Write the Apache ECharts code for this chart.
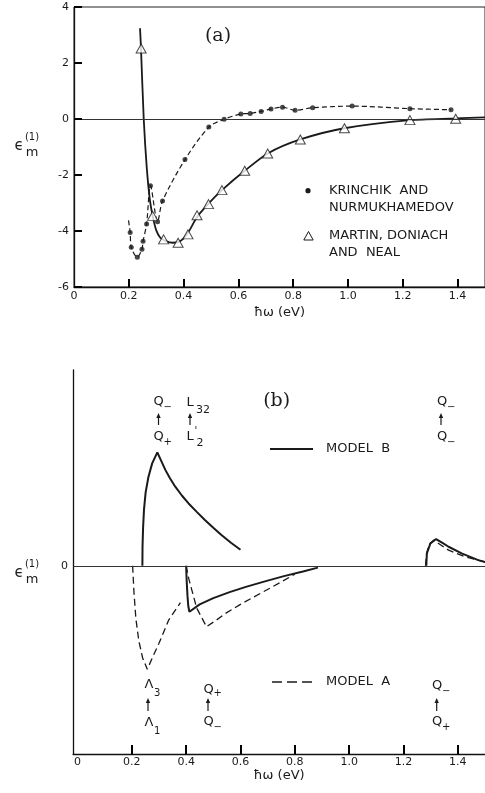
<!DOCTYPE html>
<html><head><meta charset="utf-8">
<script src="https://cdn.jsdelivr.net/npm/echarts@6/dist/echarts.min.js"></script>
<style>html,body{margin:0;padding:0;background:#fff}#c{width:485px;height:793px}</style>
</head><body><div id="c"></div>
<script>
// ---------- Ticks ----------
const xTickValues = [0.2, 0.4, 0.6, 0.8, 1.0, 1.2, 1.4];
const xLabelValues = [0, 0.2, 0.4, 0.6, 0.8, 1.0, 1.2, 1.4];
const yTickValuesA = [-4, -2, 0, 2];
// ---------- Panel (a) data ----------
const krinchikStart = [[0.199, -3.62]];
const krinchikPts = [[0.205,-4.05],[0.209,-4.58],[0.231,-4.94],[0.248,-4.65],[0.252,-4.37],[0.265,-3.75],[0.279,-2.38],[0.305,-3.67],[0.323,-2.93],[0.405,-1.45],[0.492,-0.29],[0.548,-0.01],[0.609,0.18],[0.643,0.20],[0.683,0.27],[0.719,0.36],[0.761,0.42],[0.807,0.31],[0.871,0.40],[1.015,0.46],[1.226,0.37],[1.376,0.33]];
const martinPts = [[0.245,2.52],[0.287,-3.46],[0.327,-4.30],[0.380,-4.42],[0.416,-4.12],[0.449,-3.44],[0.491,-3.04],[0.540,-2.54],[0.623,-1.85],[0.707,-1.23],[0.826,-0.73],[0.987,-0.33],[1.226,-0.04],[1.393,0.01]];
const martinCurve = [[0.241,3.24],[0.2445,2.52],[0.2545,0],[0.266,-1.8],[0.277,-2.9],[0.287,-3.46],[0.300,-3.97],[0.315,-4.24],[0.335,-4.36],[0.360,-4.42],[0.380,-4.40],[0.400,-4.26],[0.420,-4.00],[0.449,-3.50],[0.491,-3.02],[0.540,-2.54],[0.623,-1.85],[0.707,-1.23],[0.826,-0.73],[0.987,-0.33],[1.226,-0.04],[1.393,0.02],[1.5,0.06]];

// ---------- Panel (b) data (arbitrary units) ----------
const modelB1 = [[0.239,0],[0.2395,0.1],[0.2415,0.2],[0.245,0.3],[0.251,0.39],[0.261,0.47],[0.275,0.544],[0.294,0.602],[0.31,0.552],[0.324,0.508],[0.34,0.466],[0.36,0.42],[0.385,0.372],[0.409,0.331],[0.44,0.285],[0.469,0.243],[0.5,0.202],[0.53,0.163],[0.565,0.122],[0.6,0.085]];
const modelB2 = [[0.400,0],[0.402,-0.08],[0.405,-0.16],[0.408,-0.215],[0.412,-0.244],[0.45,-0.205],[0.5,-0.172],[0.56,-0.14],[0.62,-0.112],[0.69,-0.083],[0.76,-0.055],[0.83,-0.03],[0.885,-0.01]];
const modelB3 = [[1.284,0],[1.286,0.066],[1.299,0.119],[1.32,0.142],[1.345,0.12],[1.366,0.101],[1.414,0.066],[1.475,0.03],[1.5,0.02]];
const modelA1 = [[0.203,0],[0.208,-0.14],[0.215,-0.28],[0.226,-0.40],[0.24,-0.49],[0.257,-0.55],[0.28,-0.475],[0.3,-0.412],[0.336,-0.288],[0.379,-0.196]];
const modelA2 = [[0.400,0],[0.41,-0.07],[0.421,-0.129],[0.439,-0.225],[0.475,-0.324],[0.51,-0.29],[0.545,-0.253],[0.6,-0.205],[0.65,-0.165],[0.72,-0.11],[0.80,-0.045]];
const modelA3 = [[1.281,0],[1.285,0.06],[1.293,0.11],[1.311,0.136],[1.34,0.108],[1.366,0.083],[1.426,0.048],[1.5,0.02]];

const INK = '#1a1a1a';
const FONT = '"DejaVu Sans", sans-serif';

function txt(x, y, s, size, align, family) {
  return { type: 'text', x: x, y: y, z: 10,
    style: { text: s, font: size + 'px ' + (family || FONT), fill: INK,
      align: align || 'center', verticalAlign: 'middle', textAlign: align || 'center', textVerticalAlign: 'middle' } };
}
function arrow(x, yTop, yBot) {
  return [
    { type: 'line', z: 10, shape: { x1: x, y1: yTop + 3, x2: x, y2: yBot }, style: { stroke: INK, lineWidth: 1.2 } },
    { type: 'polygon', z: 10, shape: { points: [[x, yTop], [x - 2.2, yTop + 5], [x + 2.2, yTop + 5]] }, style: { fill: INK } }
  ];
}
function sym(x, y, main, sub, subDx, subDy) {
  return [txt(x, y, main, 13), txt(x + subDx, y + subDy, sub, 10, 'left')];
}
function epsLabel(y) {
  return [txt(19, y + 0.5, 'ϵ', 15), txt(32, y - 8.5, '(1)', 10), txt(32, y + 6.5, 'm', 13)];
}

const xLabelFmt = v => (Math.abs(v) < 1e-9 ? '0' : v.toFixed(1));
const axisFont = { fontSize: 11, fontFamily: 'DejaVu Sans', color: INK };
function lineStyleAxis() { return { color: '#111', width: 1.3 }; }
function tickStyle() { return { color: '#000', width: 2 }; }

const graphics = [].concat(
  [txt(218, 36, '(a)', 19, 'center', '"DejaVu Serif", serif')],
  epsLabel(146),
  [
    { type: 'circle', z: 10, shape: { cx: 308, cy: 190.7, r: 2.6 }, style: { fill: INK } },
    { type: 'polygon', z: 10, shape: { points: [[308.5, 231.5], [303.8, 240], [313.2, 240]] }, style: { fill: '#fff', stroke: INK, lineWidth: 1 } },
    txt(329, 190.5, 'KRINCHIK  AND', 13, 'left'),
    txt(329, 207.5, 'NURMUKHAMEDOV', 13, 'left'),
    txt(329, 236, 'MARTIN, DONIACH', 13, 'left'),
    txt(329, 252.5, 'AND  NEAL', 13, 'left')
  ],
  // panel (b)
  [txt(276.7, 401, '(b)', 19, 'center', '"DejaVu Serif", serif')],
  epsLabel(573),
  [
    { type: 'line', z: 10, shape: { x1: 270, y1: 449, x2: 313, y2: 449 }, style: { stroke: INK, lineWidth: 2 } },
    txt(326, 449, 'MODEL  B', 13, 'left'),
    { type: 'line', z: 10, shape: { x1: 272, y1: 682, x2: 313, y2: 682 }, style: { stroke: INK, lineWidth: 1.3, lineDash: [10, 5] } },
    txt(326, 682, 'MODEL  A', 13, 'left')
  ],
  sym(158.5, 402, 'Q', '−', 5, 5), arrow(158.5, 413, 425), sym(158.5, 437, 'Q', '+', 5, 5.5),
  [txt(190, 403, 'L', 13), txt(196, 410, '32', 11, 'left')], arrow(190, 413, 425),
  [txt(190, 436.5, 'L', 13), txt(194.5, 431, "'", 10, 'left'), txt(196.5, 443, '2', 11, 'left')],
  sym(442, 402, 'Q', '−', 5, 5), arrow(441, 413, 425), sym(442, 437, 'Q', '−', 5, 5),
  sym(149, 685, 'Λ', '3', 5, 8), arrow(148, 698, 711), sym(149, 723, 'Λ', '1', 5, 8),
  sym(208.5, 690, 'Q', '+', 5, 3.5), arrow(208, 698, 711), sym(208.5, 722, 'Q', '−', 5, 5),
  sym(437, 686, 'Q', '−', 5, 5), arrow(436.7, 698, 711), sym(437, 722, 'Q', '+', 5, 5.5)
);

// tick segments drawn through the axes' own scales (lengths in data units ~8px)
const tickLine = { color: '#000', width: 2, type: 'solid' };
function seg(p1, p2) { return [{ coord: p1, lineStyle: tickLine }, { coord: p2, lineStyle: tickLine }]; }
function markLinesA() {
  const data = [{ yAxis: 0, lineStyle: { color: '#333', width: 1, type: 'solid' } }];
  xTickValues.forEach(v => data.push(seg([v, -6], [v, -5.71])));
  yTickValuesA.forEach(v => data.push(seg([0, v], [0.029, v])));
  return { silent: true, symbol: ['none', 'none'], label: { show: false }, animation: false, data: data };
}
function markLinesB() {
  const data = [{ yAxis: 0, lineStyle: { color: '#333', width: 1, type: 'solid' } }];
  xTickValues.forEach(v => data.push(seg([v, -1], [v, -0.952])));
  return { silent: true, symbol: ['none', 'none'], label: { show: false }, animation: false, data: data };
}

const solidB = { color: INK, width: 2, type: 'solid' };
const dashedB = { color: INK, width: 1.3, type: [7, 4] };
function curve(name, data, xi, style, smooth) {
  return { name: name, type: 'line', xAxisIndex: xi, yAxisIndex: xi, data: data, smooth: smooth || false,
    showSymbol: false, symbol: 'none', lineStyle: Object.assign({}, style), silent: true };
}

const option = {
  animation: false,
  backgroundColor: '#fff',
  grid: [
    { left: 74, top: 7, width: 414.4, height: 280, show: true, borderColor: '#222', borderWidth: 1, backgroundColor: 'transparent' },
    { left: 73.1, top: 370, width: 417.2, height: 384 }
  ],
  xAxis: [
    { gridIndex: 0, type: 'value', min: 0, max: 1.5,
      axisLine: { show: true, onZero: false, lineStyle: lineStyleAxis() },
      axisTick: { show: true, inside: true, length: 8, customValues: xTickValues, lineStyle: tickStyle() },
      axisLabel: Object.assign({ customValues: xLabelValues, formatter: xLabelFmt, margin: 4 }, axisFont),
      splitLine: { show: false },
      name: 'ħω (eV)', nameLocation: 'middle', nameGap: 19,
      nameTextStyle: { fontSize: 13, fontFamily: 'DejaVu Sans', color: INK } },
    { gridIndex: 1, type: 'value', min: -0.016, max: 1.5,
      axisLine: { show: true, onZero: false, lineStyle: lineStyleAxis() },
      axisTick: { show: true, inside: true, length: 9, customValues: xTickValues, lineStyle: tickStyle() },
      axisLabel: Object.assign({ customValues: xLabelValues, formatter: xLabelFmt, margin: 3 }, axisFont),
      splitLine: { show: false },
      name: 'ħω (eV)', nameLocation: 'middle', nameGap: 15,
      nameTextStyle: { fontSize: 13, fontFamily: 'DejaVu Sans', color: INK } }
  ],
  yAxis: [
    { gridIndex: 0, type: 'value', min: -6, max: 4, interval: 2,
      axisLine: { show: true, onZero: false, lineStyle: lineStyleAxis() },
      axisTick: { show: true, inside: true, length: 8, lineStyle: tickStyle() },
      axisLabel: Object.assign({ margin: 5 }, axisFont),
      splitLine: { show: false } },
    { gridIndex: 1, type: 'value', min: -1, max: 1.04, interval: 1,
      axisLine: { show: true, onZero: false, lineStyle: lineStyleAxis() },
      axisTick: { show: false },
      axisLabel: Object.assign({ margin: 5, formatter: v => (v === 0 ? '0' : '') }, axisFont),
      splitLine: { show: false } }
  ],
  graphic: graphics,
  series: [
    Object.assign(curve('Krinchik curve', krinchikStart.concat(krinchikPts), 0, { color: INK, width: 1.2, type: [5, 3] }, 0.3), { markLine: markLinesA() }),
    { name: 'Krinchik and Nurmukhamedov', type: 'scatter', xAxisIndex: 0, yAxisIndex: 0, data: krinchikPts,
      symbol: 'circle', symbolSize: 5, itemStyle: { color: INK }, silent: true },
    curve('Martin curve', martinCurve, 0, { color: INK, width: 1.8, type: 'solid' }, 0.25),
    { name: 'Martin, Doniach and Neal', type: 'scatter', xAxisIndex: 0, yAxisIndex: 0, data: martinPts,
      symbol: 'triangle', symbolSize: [10, 9], itemStyle: { color: '#fff', borderColor: INK, borderWidth: 1 }, silent: true, z: 3 },
    Object.assign(curve('Model B 1', modelB1, 1, solidB), { markLine: markLinesB() }),
    curve('Model B 2', modelB2, 1, solidB),
    curve('Model B 3', modelB3, 1, solidB),
    curve('Model A 1', modelA1, 1, dashedB),
    curve('Model A 2', modelA2, 1, dashedB),
    curve('Model A 3', modelA3, 1, dashedB)
  ]
};

const chart = echarts.init(document.getElementById('c'), null, { renderer: 'canvas' });
chart.setOption(option);
</script>
</body></html>
